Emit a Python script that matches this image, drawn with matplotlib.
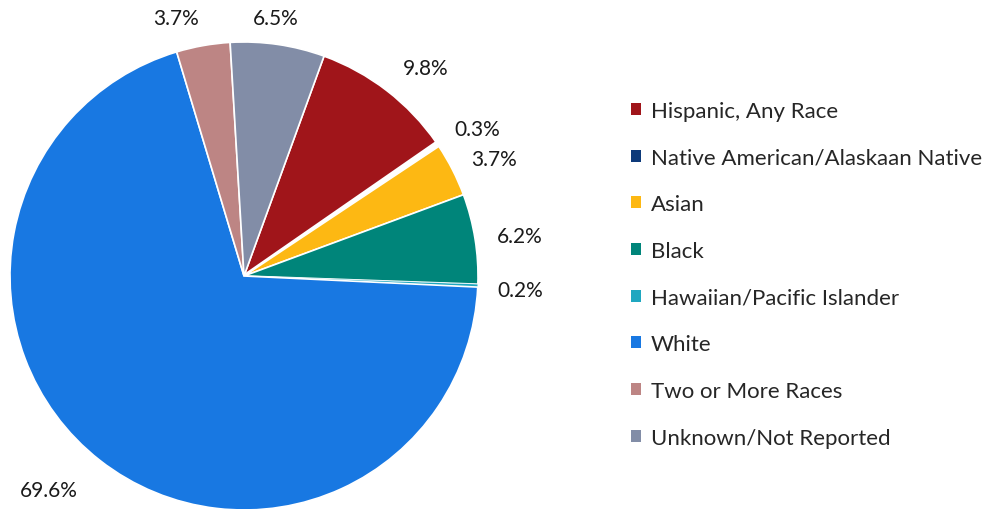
import numpy as np
import matplotlib
matplotlib.use("Agg")
import matplotlib.pyplot as plt
from matplotlib.patches import Patch

categories = [
    "Hispanic, Any Race",
    "Native American/Alaskaan Native",
    "Asian",
    "Black",
    "Hawaiian/Pacific Islander",
    "White",
    "Two or More Races",
    "Unknown/Not Reported",
]
shares = [9.8, 0.3, 3.7, 6.2, 0.2, 69.6, 3.7, 6.5]
colors = ["#A0151A", "#0D3A7A", "#FDB813", "#00857A",
          "#1FA7C0", "#1878E2", "#BD8584", "#828DA7"]

# label placement tweaks (radius factor, angle shift in degrees)
label_r = [1.18, 1.18, 1.18, 1.19, 1.18, 1.24, 1.14, 1.11]
label_dang = [-3.4, -2, -2, -1, -0.6, -4.4, 4.7, 1.3]

plt.rcParams["font.family"] = ["Lato", "DejaVu Sans"]

fig = plt.figure(figsize=(10.08, 5.10), dpi=100)
# pie centred at (244, 277) px with radius 234 px
ax = fig.add_axes([10 / 1008, (233 - 234) / 510, 468 / 1008, 468 / 510])

wedges, _ = ax.pie(
    shares, colors=colors, startangle=70, counterclock=False,
    wedgeprops=dict(edgecolor="white", linewidth=1.2),
)
# the tiny native slice shows up as a white gap in the original
wedges[1].set_facecolor("white")
wedges[1].set_linewidth(2.5)
wedges[4].set_linewidth(0.3)

for w, v, rf, da in zip(wedges, shares, label_r, label_dang):
    ang = np.deg2rad((w.theta1 + w.theta2) / 2 + da)
    ax.text(rf * np.cos(ang), rf * np.sin(ang), f"{v:.1f}%",
            ha="center", va="center", fontsize=15, color="#1a1a1a")

ax.set_xlim(-1, 1)
ax.set_ylim(-1, 1)
ax.set_aspect("equal")
ax.axis("off")

handles = [Patch(facecolor=c, edgecolor="none") for c in colors]
fig.legend(handles, categories, loc="upper left",
           bbox_to_anchor=(622 / 1008, 1 - 93 / 510), frameon=False,
           fontsize=16, labelspacing=1.2, handlelength=0.45,
           handleheight=0.45, handletextpad=0.45, borderaxespad=0,
           labelcolor="#262626")

fig.savefig("out.png", dpi=100, facecolor="white")
